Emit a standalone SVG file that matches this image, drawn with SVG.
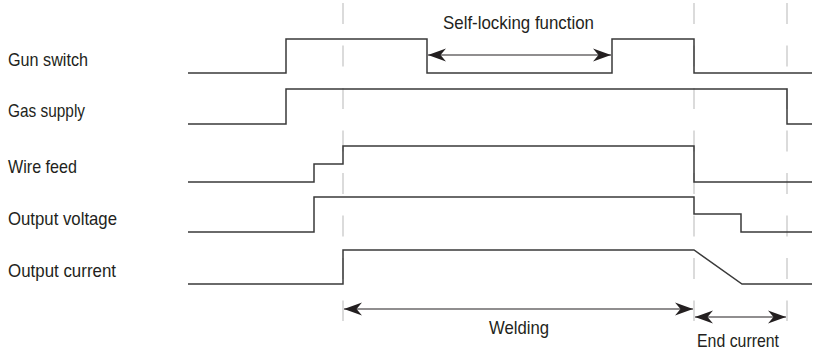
<svg xmlns="http://www.w3.org/2000/svg" width="814" height="353" viewBox="0 0 814 353">
<style>
text{font-family:"Liberation Sans",Arial,sans-serif;font-size:18.5px;fill:#231f20}
.sig{fill:none;stroke:#3a3a3a;stroke-width:1.5}
.grid{stroke:#cfcfcf;stroke-width:1.5;stroke-dasharray:21 21.5}
.dim{fill:none;stroke:#231f20;stroke-width:1.2;marker-start:url(#ah);marker-end:url(#ah)}
</style>
<defs>
<marker id="ah" markerUnits="userSpaceOnUse" markerWidth="20" markerHeight="16" viewBox="-19 -8 20 16" refX="0" refY="0" orient="auto-start-reverse">
<path d="M0,0 L-18,-6.5 L-12.5,0 L-18,6.5 Z" fill="#231f20"/>
</marker>
</defs>
<g id="gridlines">
<line class="grid" x1="343" y1="3" x2="343" y2="321"/>
<line class="grid" x1="694" y1="3" x2="694" y2="321"/>
<line class="grid" x1="787" y1="3" x2="787" y2="321"/>
</g>
<g id="gun-switch">
<text x="8" y="66" textLength="80" lengthAdjust="spacingAndGlyphs">Gun switch</text>
<path class="sig" d="M188,73 H286 V39 H427 V73 H612 V39 H694 V73 H812"/>
</g>
<g id="gas-supply">
<text x="8" y="117" textLength="77" lengthAdjust="spacingAndGlyphs">Gas supply</text>
<path class="sig" d="M188,124 H286 V89 H787 V124 H812"/>
</g>
<g id="wire-feed">
<text x="8" y="173" textLength="69" lengthAdjust="spacingAndGlyphs">Wire feed</text>
<path class="sig" d="M188,182 H314 V164 H343 V146 H694 V182 H812"/>
</g>
<g id="output-voltage">
<text x="8" y="225" textLength="109" lengthAdjust="spacingAndGlyphs">Output voltage</text>
<path class="sig" d="M188,232 H314 V197 H694 V214 H741 V232 H812"/>
</g>
<g id="output-current">
<text x="8" y="277" textLength="108" lengthAdjust="spacingAndGlyphs">Output current</text>
<path class="sig" d="M188,284 H343 V250 H694 L742,284 H812"/>
</g>
<g id="connectors">
<line class="dim" x1="428" y1="55" x2="611" y2="55"/>
<line class="dim" x1="344" y1="309" x2="693" y2="309"/>
<line class="dim" x1="695" y1="317" x2="786" y2="317"/>
</g>
<g id="labels">
<text x="443" y="29" textLength="151" lengthAdjust="spacingAndGlyphs">Self-locking function</text>
<text x="489" y="334" textLength="60" lengthAdjust="spacingAndGlyphs">Welding</text>
<text x="697" y="347" textLength="82" lengthAdjust="spacingAndGlyphs">End current</text>
</g>
</svg>
